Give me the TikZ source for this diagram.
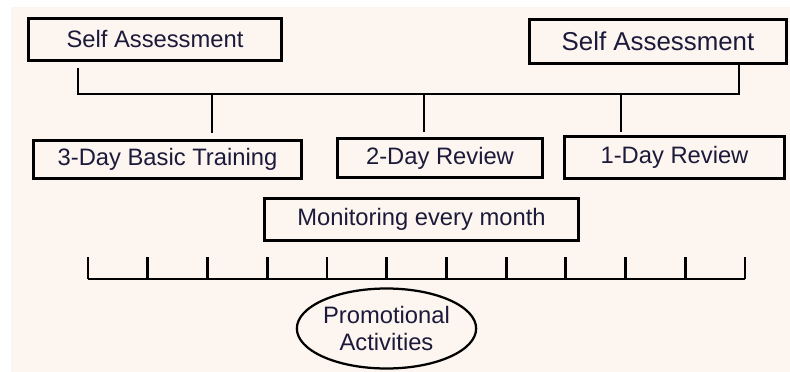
\documentclass[tikz,border=0pt]{standalone}
\usepackage{fontspec}
\setmainfont{Liberation Sans}
\usepackage{xcolor}
\usepackage{tikz}
\usetikzlibrary{shapes,arrows,positioning,calc}

\definecolor{bgpink}{RGB}{253,245,239}
\definecolor{inknavy}{RGB}{28,26,58}

\begin{document}
\begin{tikzpicture}[
    box/.style={rectangle, draw, line width=2pt, fill=bgpink, inner sep=0pt, align=center,
        text=inknavy, font=\fontsize{16.9}{20}\selectfont},
    bigbox/.style={box, font=\fontsize{18.4}{22}\selectfont},
    oval/.style={ellipse, draw, line width=1.6pt, inner sep=0pt, align=center,
        text=inknavy, font=\fontsize{16.9}{19.2}\selectfont},
    link/.style={line width=2pt},
]
    \useasboundingbox (0,0) rectangle (19.75,-9.3);
    \fill[bgpink] (0.275,-0.175) rectangle (19.75,-9.3);

    % Nodes
    \node[box, minimum width=6.325cm, minimum height=1.05cm] (assessA) at (3.875,-0.9875) {Self Assessment};
    \node[bigbox, minimum width=6.425cm, minimum height=1.1cm] (assessB) at (16.45,-1.0375) {Self Assessment};
    \node[box, minimum width=6.7cm, minimum height=0.95cm] (basic) at (4.1875,-3.9875) {3-Day Basic Training};
    \node[box, minimum width=5.125cm, minimum height=0.975cm] (twoday) at (11.0,-3.95) {2-Day Review};
    \node[box, minimum width=5.5cm, minimum height=1.05cm] (oneday) at (16.8625,-3.9375) {1-Day Review};
    \node[box, minimum width=7.85cm, minimum height=1.05cm] (monitor) at (10.5375,-5.4875) {Monitoring every month};
    \node[oval, minimum width=4.4cm, minimum height=2.0cm] (promo) at (9.6625,-8.2125) {Promotional\\Activities};

    % Bus between the two assessments
    \coordinate (busA) at (1.95,-2.35);
    \coordinate (busB) at (18.475,-2.35);
    \draw[link] ($(assessA.south -| busA)+(0,-0.15)$) -- (busA) -- (busB) -- (assessB.south -| busB);

    % Drops to the courses
    \coordinate (dropBasic) at (5.3,-2.35);
    \coordinate (dropTwo) at (10.6,-2.35);
    \coordinate (dropOne) at (15.525,-2.35);
    \draw[link, shorten >=0.14cm] (dropBasic) -- (basic.north -| dropBasic);
    \draw[link, shorten >=0.12cm] (dropTwo) -- (twoday.north -| dropTwo);
    \draw[link, shorten >=0.08cm] (dropOne) -- (oneday.north -| dropOne);

    % Monthly time line
    \draw[link] (2.2,-6.975) -- (18.625,-6.975);
    \foreach \i in {0,...,11}
        \draw[link] (2.2+1.49318*\i,-6.975) -- (2.2+1.49318*\i,-6.425);
\end{tikzpicture}
\end{document}
